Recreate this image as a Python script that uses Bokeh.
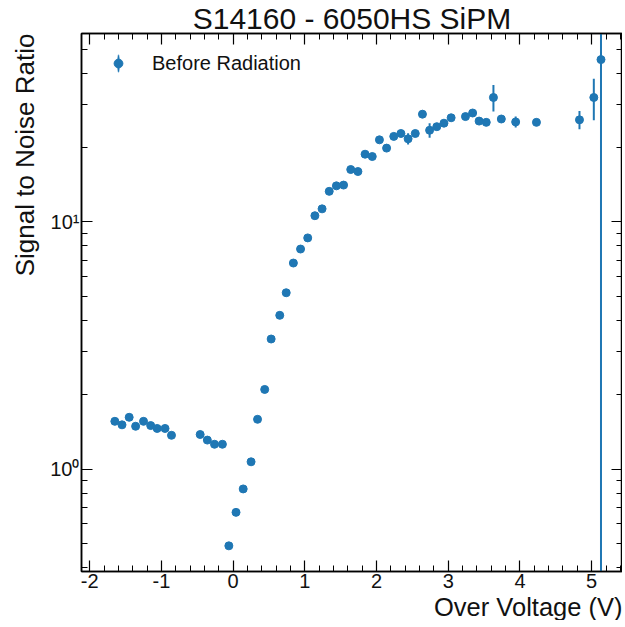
import numpy as np
from bokeh.plotting import figure
from bokeh.models import (Range1d, LinearAxis, LogAxis, FixedTicker, Legend, LegendItem,
                          ColumnDataSource, CustomJSTickFormatter, Title)
from bokeh.embed import file_html
from bokeh.resources import INLINE

# ---------------- data ----------------
over_voltage = [-1.65, -1.55, -1.45, -1.36, -1.25, -1.15, -1.06, -0.95, -0.86,
                -0.46, -0.36, -0.26, -0.15, -0.06, 0.04, 0.14, 0.25, 0.34, 0.44,
                0.53, 0.65, 0.74, 0.84, 0.94, 1.04, 1.14, 1.24, 1.34, 1.44, 1.54,
                1.64, 1.74, 1.84, 1.94,
                2.04, 2.14, 2.24, 2.34, 2.44, 2.54, 2.64, 2.74, 2.84, 2.94, 3.04,
                3.24, 3.34, 3.43, 3.53, 3.63, 3.74,
                3.94, 4.23, 4.83, 5.03, 5.13]
snr = [1.56, 1.51, 1.62, 1.49, 1.56, 1.50, 1.46, 1.46, 1.37,
       1.38, 1.31, 1.26, 1.26, 0.489, 0.668, 0.831, 1.07, 1.59, 2.10,
       3.36, 4.19, 5.17, 6.82, 7.77, 8.62, 10.6, 11.3, 13.3, 14.0, 14.1,
       16.3, 16.0, 18.8, 18.4,
       21.5, 19.9, 22.2, 22.8, 21.7, 22.8, 27.3, 23.5, 24.3, 25.1, 26.4,
       26.7, 27.6, 25.6, 25.3, 31.9, 26.1,
       25.4, 25.3, 25.9, 31.9, 45.4]
snr_err = [0.03, 0.03, 0.03, 0.03, 0.03, 0.03, 0.03, 0.03, 0.03,
           0.03, 0.03, 0.03, 0.03, 0.01, 0.015, 0.02, 0.03, 0.04, 0.05,
           0.07, 0.09, 0.10, 0.13, 0.15, 0.17, 0.20, 0.22, 0.25, 0.28, 0.30,
           0.32, 0.35, 0.38, 0.40,
           0.50, 0.45, 0.50, 0.55, 1.13, 0.50, 0.96, 1.60, 0.50, 0.50, 0.50,
           0.55, 0.55, 0.50, 0.50, 3.90, 0.60,
           1.30, 0.60, 2.20, 6.10, 100.0]

x_ticks = [-2, -1, 0, 1, 2, 3, 4, 5]
x_tick_labels = {-2: "-2", -1: "-1", 0: "0", 1: "1", 2: "2", 3: "3", 4: "4", 5: "5"}
y_ticks = [1, 10]
y_tick_labels = {1: "10\u2070", 10: "10\u00b9"}

BLUE = "#1f77b4"
FONT = "Liberation Sans"
INK = "#111111"

y_arr = np.array(snr)
e_arr = np.array(snr_err)
src = ColumnDataSource(dict(x=over_voltage, y=snr,
                            lo=np.clip(y_arr - e_arr, 1e-3, None),
                            hi=y_arr + e_arr))

FH = 538
p = figure(frame_width=541, frame_height=FH, y_axis_type="log",
           x_range=Range1d(-2.115, 5.43), y_range=Range1d(0.385, 57.9),
           output_backend="svg", toolbar_location=None,
           min_border_left=0, min_border_right=0, min_border_top=0,
           min_border_bottom=0)
p.grid.visible = False
p.outline_line_color = "black"
p.outline_line_width = 1.5
p.background_fill_color = "white"
p.border_fill_color = "white"

p.title.text = "S14160 - 6050HS SiPM"
p.title.align = "center"
p.title.text_font = FONT
p.title.text_font_size = "30px"
p.title.text_font_style = "normal"
p.title.text_color = INK
p.title.standoff = -2

xt = FixedTicker(ticks=x_ticks, minor_ticks=list(np.round(np.arange(-2.0, 5.5, 0.2), 2)))
minor_y = [0.4, 0.5, 0.6, 0.7, 0.8, 0.9, 2, 3, 4, 5, 6, 7, 8, 9, 20, 30, 40, 50]
yt = FixedTicker(ticks=y_ticks, minor_ticks=minor_y)


def style_axis(ax, labels=True):
    ax.axis_line_color = "black"
    ax.axis_line_width = 1.5
    ax.major_tick_in = 11
    ax.major_tick_out = 0
    ax.minor_tick_in = 6
    ax.minor_tick_out = 0
    ax.major_tick_line_color = "black"
    ax.minor_tick_line_color = "black"
    ax.major_tick_line_width = 1.2
    ax.minor_tick_line_width = 1.0
    ax.major_label_text_font = FONT
    ax.major_label_text_color = INK
    ax.major_label_text_font_size = "20px" if labels else "1px"
    ax.major_label_standoff = 2 if labels else 0


xa = p.xaxis[0]
xa.ticker = xt
xa.major_label_overrides = x_tick_labels
style_axis(xa)
ya = p.yaxis[0]
ya.ticker = yt
ya.major_label_overrides = y_tick_labels
style_axis(ya)

blank = CustomJSTickFormatter(code="return ''")
top = LinearAxis(ticker=xt, formatter=blank)
style_axis(top, labels=False)
p.add_layout(top, "above")
right = LogAxis(ticker=yt, formatter=blank)
style_axis(right, labels=False)
p.add_layout(right, "right")

# axis titles, right/top aligned like the reference
p.add_layout(Title(text="Over Voltage (V)", align="right", text_font=FONT,
                   text_font_size="25.5px", text_font_style="normal", text_color=INK,
                   standoff=0), "below")
p.add_layout(Title(text="Signal to Noise Ratio", align="right", text_font=FONT,
                   text_font_size="26px", text_font_style="normal", text_color=INK,
                   standoff=15), "left")

seg = p.segment(x0="x", y0="lo", x1="x", y1="hi", source=src, line_color=BLUE, line_width=2)
pts = p.scatter(x="x", y="y", source=src, size=8, marker="circle",
                fill_color=BLUE, line_color=BLUE)
# thin vertical ellipse hidden on the last error bar; it only supplies the legend's bar
ell = p.ellipse(x=over_voltage[-1:], y=snr[-1:], width=1.5, height=14,
                width_units="screen", height_units="screen",
                fill_color=BLUE, line_color=BLUE, line_width=0.5)

legend = Legend(items=[LegendItem(label="Before Radiation", renderers=[ell, pts])],
                location=(26, FH - 42), glyph_width=22, glyph_height=24,
                label_standoff=23, padding=6, margin=0,
                border_line_color=None, background_fill_alpha=0,
                label_text_font=FONT, label_text_font_size="20px", label_text_color=INK)
p.add_layout(legend, "center")

open("out.html", "w").write(file_html(p, INLINE))
